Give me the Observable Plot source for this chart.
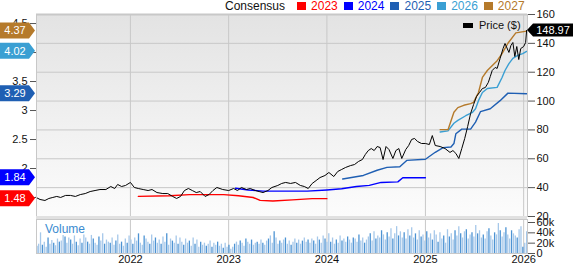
<!DOCTYPE html>
<html><head><meta charset="utf-8">
<script src="https://cdn.jsdelivr.net/npm/d3@7"></script>
<script src="https://cdn.jsdelivr.net/npm/@observablehq/plot@0.6"></script>
<style>
body{margin:0;background:#fff;font-family:Arial,"Liberation Sans",sans-serif;}
#wrap{position:relative;width:573px;height:264px;overflow:hidden;background:#fff;}
#wrap svg{position:absolute;left:0;}
.legend{position:absolute;top:0;left:225px;height:12px;display:flex;align-items:center;font-size:12px;line-height:12px;white-space:nowrap;}
.legend .sq{display:inline-block;width:9px;height:8px;margin:0 5px 0 0;}
.legend .it{display:flex;align-items:center;margin-right:6px;}
.legend .ttl{margin-right:12px;color:#111;}
.pricekey{position:absolute;left:463px;top:19px;font-size:11px;display:flex;align-items:center;color:#111;}
.pricekey span.k{display:inline-block;width:10px;height:5px;background:#000;margin-right:6px;}
.band{position:absolute;left:36px;top:216px;width:491px;height:3px;background:#e1e1e1;}
.vlab{position:absolute;left:45px;top:222px;font-size:12px;color:#3b8bd0;}
</style></head><body><div id="wrap"></div>
<script>
// ---------- data ----------
const seriesNames = ["2023", "2024", "2025", "2026", "2027"];
const seriesColors = ["#ff0000", "#0000ff", "#1f5fb3", "#3a9fd3", "#b57a2b"];

const priceYears = [2021.04,2021.08,2021.13,2021.17,2021.21,2021.25,2021.29,2021.34,2021.39,2021.44,2021.49,2021.54,2021.59,2021.64,2021.69,2021.75,2021.80,2021.84,2021.87,2021.91,2021.95,
2022.00,2022.04,2022.08,2022.13,2022.18,2022.22,2022.27,2022.33,2022.38,2022.43,2022.47,2022.51,2022.55,2022.59,2022.63,2022.67,2022.71,2022.76,2022.80,2022.84,2022.88,2022.94,
2023.00,2023.05,2023.09,2023.13,2023.18,2023.22,2023.27,2023.31,2023.35,2023.40,2023.44,2023.50,2023.54,2023.58,2023.63,2023.68,2023.73,2023.77,2023.81,2023.85,2023.89,2023.93,2023.98,
2024.02,2024.07,2024.11,2024.15,2024.19,2024.24,2024.28,2024.32,2024.36,2024.39,2024.42,2024.45,2024.48,2024.51,2024.54,2024.57,2024.60,2024.63,2024.67,2024.70,2024.73,2024.76,2024.80,2024.83,2024.86,2024.89,2024.92,2024.96,
2025.00,2025.04,2025.07,2025.10,2025.15,2025.20,2025.25,2025.28,2025.31,2025.34,2025.37,2025.40,2025.43,2025.46,2025.49,2025.52,2025.55,2025.58,2025.61,2025.64,2025.66,2025.68,2025.71,2025.73,2025.76,2025.79,2025.81,2025.85,2025.87,2025.89,2025.91,2025.93,2025.95,2025.97,2026.00,2026.02,2026.03];
const priceValues = [33.2,31.8,31.1,32.5,33.2,33.9,33.2,34.6,34.6,33.9,35.2,35.9,37.3,38.0,38.7,38.7,40.8,39.4,42.2,40.8,41.5,
43.6,40.1,39.4,38.7,38.0,38.7,36.6,35.9,35.9,33.9,32.5,33.9,38.0,39.4,38.0,36.6,37.3,33.9,35.2,38.0,40.1,38.7,
38.0,39.4,38.0,40.1,38.7,39.4,38.0,37.3,36.6,38.0,40.1,41.5,42.9,43.6,42.9,43.6,41.5,40.8,39.4,42.9,44.9,47.0,48.4,
50.5,47.7,51.2,52.6,54.0,55.3,56.0,58.1,59.5,63.0,65.7,67.1,65.7,68.5,67.8,59.5,68.5,66.4,60.2,65.7,67.1,60.2,66.4,69.2,73.4,74.1,72.0,70.6,
70.6,69.9,76.1,69.2,68.5,67.1,64.4,65.7,63.7,60.2,67.1,74.1,82.4,91.4,97.6,103.2,105.9,108.7,109.4,112.9,117.0,121.2,123.3,122.6,129.5,136.4,139.9,133.7,138.5,140.6,130.9,137.8,128.8,136.4,137.8,140.6,148.97];

const eps2023Years = [2022.08,2022.4,2022.6,2022.95,2023.1,2023.25,2023.32,2023.45,2023.65,2023.85,2024.0];
const eps2023Values = [1.52,1.53,1.55,1.55,1.53,1.50,1.45,1.44,1.46,1.48,1.48];
const eps2024Years = [2023.07,2023.2,2023.35,2023.6,2023.8,2024.0,2024.15,2024.3,2024.43,2024.55,2024.72,2024.77,2025.0];
const eps2024Values = [1.66,1.63,1.61,1.61,1.61,1.63,1.65,1.69,1.71,1.76,1.77,1.84,1.84];
const eps2025Years = [2024.16,2024.37,2024.51,2024.61,2024.74,2024.81,2025.0,2025.1,2025.18,2025.26,2025.29,2025.31,2025.37,2025.46,2025.51,2025.56,2025.66,2025.76,2025.84,2026.03];
const eps2025Values = [1.82,1.88,1.97,2.02,2.03,2.14,2.16,2.28,2.36,2.37,2.43,2.60,2.68,2.68,2.80,2.98,3.03,3.17,3.30,3.29];
const eps2026Years = [2025.15,2025.23,2025.29,2025.33,2025.41,2025.48,2025.51,2025.54,2025.58,2025.63,2025.73,2025.78,2025.81,2025.85,2025.89,2025.94,2025.99,2026.03];
const eps2026Values = [2.63,2.65,2.78,2.83,2.91,2.97,3.03,3.17,3.31,3.38,3.40,3.57,3.69,3.81,3.90,3.95,3.98,4.02];
const eps2027Years = [2025.15,2025.23,2025.29,2025.33,2025.39,2025.46,2025.49,2025.54,2025.58,2025.63,2025.73,2025.78,2025.84,2025.92,2026.03];
const eps2027Values = [2.67,2.67,2.97,3.05,3.09,3.12,3.14,3.31,3.57,3.69,3.86,3.98,4.16,4.34,4.37];

// weekly volume (thousands), from mid-January 2021
const volumeValues = [
14,18,40,16,22,12,30,18,25,20,15,28,22,
24,35,32,20,30,26,18,34,22,15,28,20,36,
30,22,18,35,28,20,16,32,24,38,18,26,22,
20,30,16,24,36,18,22,14,28,20,34,26,18,
30,24,38,20,16,34,28,22,18,36,24,30,20,
26,18,32,22,38,16,28,24,20,34,18,30,22,
16,28,20,24,14,30,18,26,12,22,16,20,14,
18,24,12,20,16,22,14,18,10,20,12,16,8,
12,18,22,16,24,20,14,28,22,18,26,16,20,
22,18,26,20,16,24,28,34,20,42,30,18,24,
20,26,30,18,24,16,22,28,20,26,18,24,30,
22,26,20,28,24,18,32,26,20,34,28,22,38,
22,30,18,26,20,34,24,28,22,32,26,20,30,
28,22,36,24,30,20,26,32,38,24,42,28,34,
30,44,36,26,40,32,48,28,38,52,34,42,30,
40,28,46,34,50,30,38,26,44,32,36,24,42,
30,38,26,44,36,22,40,28,34,20,46,32,38,
26,44,34,52,38,30,42,46,28,36,40,32,54,
38,44,30,36,28,42,48,34,26,40,36,58,44,
32,40,50,36,28,44,38,34,30,46,52,12,20,
42];

const priceTicks = [20,40,60,80,100,120,140,160];
const epsTicks = [1.5,2,2.5,3,3.5,4,4.5];
const volumeTicks = [0,20,40,60];
const yearTicks = [2022,2023,2024,2025,2026];

// ---------- helpers ----------
const yearToDate = y => { const yr = Math.floor(y); const s = Date.UTC(yr,0,1), e = Date.UTC(yr+1,0,1); return new Date(s + (y-yr)*(e-s)); };
// dual axis: EPS (left) expressed on the price (right) scale
const epsToPrice = v => 53.26 + (v - 2) * 40.19;
const priceToEps = p => 2 + (p - 53.26) / 40.19;

const price = priceYears.map((y,i) => ({date: yearToDate(y), value: priceValues[i]}));
const epsYears = [eps2023Years, eps2024Years, eps2025Years, eps2026Years, eps2027Years];
const epsVals = [eps2023Values, eps2024Values, eps2025Values, eps2026Values, eps2027Values];
const epsSeries = seriesNames.map((name,k) => epsYears[k].map((y,i) => ({series: name, date: yearToDate(y), eps: epsVals[k][i]})));
const volStart = Date.UTC(2021,0,18);
const volume = volumeValues.map((v,i) => ({date: new Date(volStart + i*7*864e5), vol: v*1000, i}));
const xDomain = [yearToDate(2021.044), yearToDate(2026.039)];
const yearDates = yearTicks.map(y => new Date(Date.UTC(y,0,1)));
const font = "Arial, 'Liberation Sans', sans-serif";

const wrap = document.getElementById("wrap");

// legend
const lg = document.createElement("div"); lg.className = "legend";
lg.innerHTML = `<span class="ttl">Consensus</span>` + seriesNames.map((n,i) =>
  `<span class="it"><span class="sq" style="background:${seriesColors[i]}"></span><span style="color:${seriesColors[i]}">${n}</span></span>`).join("");

// ---------- price panel ----------
const topChart = Plot.plot({
  width: 573, height: 217,
  marginTop: 14, marginBottom: 1, marginLeft: 36, marginRight: 46,
  style: {fontFamily: font, fontSize: "11px", background: "transparent", overflow: "visible"},
  x: {type: "utc", domain: xDomain, axis: null},
  y: {domain: [20,160], range: [216,14], label: null},
  marks: [
    Plot.frame({fill: "url(#bgGrad)", stroke: null}),
    Plot.gridX(yearDates, {stroke: "#c8c8c8", strokeOpacity: 1}),
    Plot.gridY(priceTicks, {stroke: "#c8c8c8", strokeOpacity: 1}),
    Plot.ruleY([160], {stroke: "#c8c8c8", strokeWidth: 2}),
    Plot.axisY(priceTicks, {anchor: "right", tickSize: 7, tickPadding: 2, stroke: "#555", fill: "#111", fontSize: 11, label: null}),
    Plot.axisY(epsTicks.map(epsToPrice), {anchor: "left", tickSize: 6, tickPadding: 3, stroke: "#555", fill: "#111", fontSize: 11, label: null,
      tickFormat: p => String(+priceToEps(p).toFixed(1))}),
    ...epsSeries.map((s,k) => Plot.line(s, {x: "date", y: d => epsToPrice(d.eps), stroke: seriesColors[k], strokeWidth: 1.4})),
    Plot.line(price, {x: "date", y: "value", stroke: "#000", strokeWidth: 1}),
    Plot.frame({stroke: "#c8c8c8"})
  ]
});
topChart.style.top = "0px";
{
  const svg = d3.select(topChart);
  const defs = svg.insert("defs", ":first-child");
  const g = defs.append("linearGradient").attr("id","bgGrad").attr("x1",0).attr("y1",0).attr("x2",0).attr("y2",1);
  g.append("stop").attr("offset","0%").attr("stop-color","#e3e3e3");
  g.append("stop").attr("offset","100%").attr("stop-color","#fcfcfc");
  // value badges placed with the chart's own y scale
  const ys = topChart.scale("y");
  const layer = svg.append("g").attr("font-family", font).attr("font-size", 11);
  epsVals.forEach((vals,k) => {
    const v = vals[vals.length-1];
    const cy = ys.apply(epsToPrice(v));
    layer.append("path").attr("d", `M0,${cy-8}H29L35,${cy}L29,${cy+8}H0Z`).attr("fill", seriesColors[k]);
    layer.append("text").attr("x", 15).attr("y", cy).attr("dy", "0.35em").attr("text-anchor","middle").attr("fill","#fff").text(v.toFixed(2));
  });
  const last = priceValues[priceValues.length-1];
  const py = ys.apply(last);
  layer.append("path").attr("d", `M527,${py}L533,${py-6.5}H573V${py+6.5}H533Z`).attr("fill", "#000");
  layer.append("text").attr("x", 553).attr("y", py).attr("dy","0.35em").attr("text-anchor","middle").attr("fill","#fff").text(last.toFixed(2));
}

// ---------- volume panel ----------
const volChart = Plot.plot({
  width: 573, height: 45,
  marginTop: 0, marginBottom: 11, marginLeft: 36, marginRight: 46,
  style: {fontFamily: font, fontSize: "11px", background: "transparent", overflow: "visible"},
  x: {type: "utc", domain: xDomain},
  y: {domain: [0,60000], range: [34,3], label: null},
  marks: [
    Plot.gridX(yearDates, {stroke: "#c8c8c8", strokeOpacity: 1}),
    Plot.ruleX(volume, {x: "date", y1: 0, y2: "vol", stroke: d => d.i % 3 === 0 ? "#4d93d3" : "#a6c8ea", strokeWidth: 1.3}),
    Plot.axisY(volumeTicks.map(v => v*1000), {anchor: "right", tickSize: 7, tickPadding: 2, stroke: "#555", fill: "#111", fontSize: 11, label: null,
      tickFormat: v => v === 0 ? "0" : (v/1000) + "k"}),
    Plot.axisX(yearDates, {anchor: "bottom", tickSize: 0, tickPadding: 2, fill: "#111", fontSize: 11, label: null, tickFormat: d => String(d.getUTCFullYear())}),
    Plot.frame({stroke: "#c8c8c8"})
  ]
});
volChart.style.top = "219px";

wrap.appendChild(topChart);
const band = document.createElement("div"); band.className = "band"; wrap.appendChild(band);
wrap.appendChild(volChart);
wrap.appendChild(lg);
const pk = document.createElement("div"); pk.className = "pricekey"; pk.innerHTML = `<span class="k"></span>Price ($)`; wrap.appendChild(pk);
const vl = document.createElement("div"); vl.className = "vlab"; vl.textContent = "Volume"; wrap.appendChild(vl);
</script></body></html>
